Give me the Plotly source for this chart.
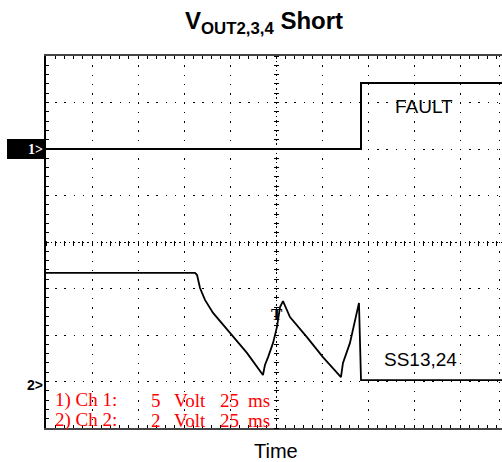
import plotly.graph_objects as go

# ---- data (time in ms, voltages in V) ----
ch1_t = [0, 171.2, 171.2, 250]
ch1_v = [0.0, 0.0, 7.1, 7.1]

ch2_t = [0, 81.0, 82.1, 83.7, 86.4, 90.8, 100.0, 109.2, 117.9, 119.0, 120.7, 123.4,
         125.5, 127.2, 128.8, 132.6, 141.8, 150.5, 160.3, 161.4, 165.2, 169.0, 170.1,
         171.2, 250]
ch2_v = [4.67, 4.67, 4.58, 4.02, 3.51, 2.95, 2.09, 1.23, 0.28, 0.71, 1.05, 1.66,
         2.34, 3.20, 3.46, 2.77, 1.91, 1.05, 0.19, 0.80, 1.66, 2.95, 3.38,
         0.06, 0.06]

ch1_scale = 5.0   # V/div
ch2_scale = 2.0   # V/div
ch1_offset = 6.0  # div
ch2_offset = 1.0  # div
time_per_div = 25.0  # ms/div

grid_vals_x = [0, 25, 50, 75, 100, 125, 150, 175, 200, 225, 246.2]
channel_lines = [
    ["1) Ch 1:", "5", "Volt", "25", "ms"],
    ["2) Ch 2:", "2", "Volt", "25", "ms"],
]

# ---- geometry ----
W, H = 502, 462
L, R, T, B = 46, 0, 56, 34
PW, PH = W - L - R, H - T - B
x_range = [0, PW / 46.0 * time_per_div]
y_range = [0, 8]


def px_x(px):
    return (px - L) / PW


def px_y(py):
    return (H - B - py) / PH


ch1_y = [ch1_offset + v / ch1_scale for v in ch1_v]
ch2_y = [ch2_offset + v / ch2_scale for v in ch2_v]

fig = go.Figure()
fig.add_trace(go.Scatter(x=ch1_t, y=ch1_y, mode="lines",
                         line=dict(color="black", width=2), showlegend=False,
                         hoverinfo="skip"))
fig.add_trace(go.Scatter(x=ch2_t, y=ch2_y, mode="lines",
                         line=dict(color="black", width=1.8), showlegend=False,
                         hoverinfo="skip"))

# empty traces to activate overlay axes
for xa, ya in [("x2", "y"), ("x3", "y"), ("x4", "y"), ("x", "y2"), ("x", "y3"), ("x", "y4")]:
    fig.add_trace(go.Scatter(x=[None], y=[None], xaxis=xa, yaxis=ya, mode="lines",
                             showlegend=False, hoverinfo="skip"))

dot_v = "1.4px,7.9px"
dot_h = "1.4px,7.8px"

common = dict(showticklabels=False, zeroline=False, fixedrange=True)

fig.update_layout(
    width=W, height=H,
    margin=dict(l=L, r=R, t=T, b=B),
    paper_bgcolor="white", plot_bgcolor="white",
    xaxis=dict(range=x_range, tickmode="linear", tick0=0, dtick=time_per_div / 5,
               ticks="inside", ticklen=3, tickwidth=1, tickcolor="black",
               showgrid=False, showline=True, linecolor="#444", linewidth=2,
               mirror="ticks", **common),
    yaxis=dict(range=y_range, tickmode="linear", tick0=0, dtick=0.2,
               ticks="inside", ticklen=3, tickwidth=1, tickcolor="black",
               showgrid=False, showline=True, linecolor="black", linewidth=2,
               mirror=False, **common),
    # center tick marks
    xaxis2=dict(range=x_range, overlaying="x", anchor="free", position=px_y(239.5),
                tickmode="linear", tick0=0, dtick=time_per_div / 5, ticks="outside",
                ticklen=5, tickwidth=1, tickcolor="black", showgrid=False,
                showline=False, **common),
    yaxis2=dict(range=y_range, overlaying="y", anchor="free", position=px_x(278.5),
                tickmode="linear", tick0=0, dtick=0.2, ticks="outside",
                ticklen=5, tickwidth=1, tickcolor="black", showgrid=False,
                showline=False, **common),
    # center dense grid
    xaxis3=dict(range=x_range, overlaying="x", tickmode="array", tickvals=[125],
                ticks="", showgrid=True, gridcolor="black", gridwidth=1.4,
                griddash="1.4px,3.2px", showline=False, **common),
    yaxis3=dict(range=y_range, overlaying="y", tickmode="array", tickvals=[4],
                ticks="", showgrid=True, gridcolor="black", gridwidth=1.4,
                griddash="1.4px,3.2px", showline=False, **common),
    # regular grid
    xaxis4=dict(range=x_range, overlaying="x", tickmode="array", tickvals=grid_vals_x,
                ticks="", showgrid=True, gridcolor="black", gridwidth=1.4,
                griddash=dot_v, showline=False, **common),
    yaxis4=dict(range=y_range, overlaying="y", tickmode="linear", tick0=0, dtick=1,
                ticks="", showgrid=True, gridcolor="black", gridwidth=1.4,
                griddash=dot_h, showline=False, **common),
)

ann = []
sans = "Liberation Sans, Arial, sans-serif"
serif = "Liberation Serif, Times New Roman, serif"

ann.append(dict(x=px_x(264), y=px_y(22), xref="paper", yref="paper",
                text="<b>V<sub>OUT2,3,4</sub> Short</b>", showarrow=False,
                font=dict(family=sans, size=24, color="black"),
                xanchor="center", yanchor="middle"))
ann.append(dict(x=px_x(424), y=px_y(106), xref="paper", yref="paper",
                text="FAULT", showarrow=False,
                font=dict(family=sans, size=19, color="black"),
                xanchor="center", yanchor="middle"))
ann.append(dict(x=px_x(420), y=px_y(359), xref="paper", yref="paper",
                text="SS13,24", showarrow=False,
                font=dict(family=sans, size=19, color="black"),
                xanchor="center", yanchor="middle"))
ann.append(dict(x=px_x(276), y=px_y(451), xref="paper", yref="paper",
                text="Time", showarrow=False,
                font=dict(family=sans, size=20, color="black"),
                xanchor="center", yanchor="middle"))
ann.append(dict(x=px_x(277), y=px_y(314), xref="paper", yref="paper",
                text="<b>T</b>", showarrow=False,
                font=dict(family=serif, size=17, color="black"),
                xanchor="center", yanchor="middle"))

# channel markers
ann.append(dict(x=px_x(45), y=px_y(149), xref="paper", yref="paper",
                text="<b>1&gt;</b>", showarrow=False,
                font=dict(family=serif, size=14, color="white"),
                xanchor="right", yanchor="middle"))
ann.append(dict(x=px_x(45), y=px_y(385), xref="paper", yref="paper",
                text="<b>2&gt;</b>", showarrow=False,
                font=dict(family=sans, size=14, color="black"),
                xanchor="right", yanchor="middle"))

# red channel info text
piece_centers = [None, 155.5, 190, 229, 259]
for row, py in zip(channel_lines, [400, 420]):
    for i, word in enumerate(row):
        if i == 0:
            ann.append(dict(x=px_x(53), y=px_y(py), xref="paper", yref="paper",
                            text=word, showarrow=False,
                            font=dict(family=serif, size=19, color="red"),
                            xanchor="left", yanchor="middle"))
        else:
            ann.append(dict(x=px_x(piece_centers[i]), y=px_y(py), xref="paper",
                            yref="paper", text=word, showarrow=False,
                            font=dict(family=serif, size=19, color="red"),
                            xanchor="center", yanchor="middle"))

fig.update_layout(annotations=ann)

fig.add_shape(type="rect", xref="paper", yref="paper",
              x0=px_x(7), x1=px_x(46), y0=px_y(159), y1=px_y(139),
              fillcolor="black", line=dict(width=0), layer="below")

fig.write_html("out.html",
               config={"displayModeBar": False},
               post_script="document.body.style.margin='0px';"
                           "document.body.style.overflow='hidden';")
